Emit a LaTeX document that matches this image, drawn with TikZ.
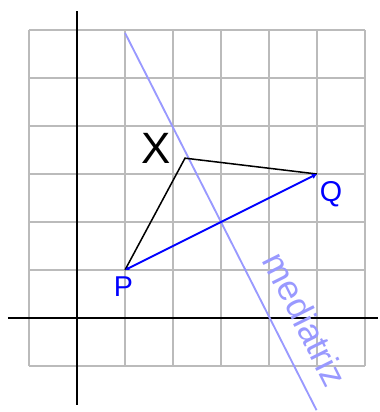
\documentclass[tikz,border=0pt]{standalone}
\usepackage{fontspec}
\setmainfont{Liberation Sans}
\usetikzlibrary{arrows.meta}
\definecolor{gridgray}{HTML}{BBBBBB}
\definecolor{lightblue}{HTML}{9999FF}
\tikzset{
  gridline/.style={draw=gridgray, line width=1.2pt},
  axisline/.style={draw=black, line width=1.2pt},
  segline/.style={draw=black, line width=0.9pt},
  vecline/.style={draw=blue, line width=1.1pt, {Latex[length=2.5pt,width=2.5pt]}-{Latex[length=3pt,width=3.5pt]}},
  medline/.style={draw=lightblue, line width=1.1pt},
  ptlabel/.style={text=blue, font=\fontsize{17}{17}\selectfont, inner sep=0pt},
}
\begin{document}
\begin{tikzpicture}
\useasboundingbox (-1.604,-1.958) rectangle (6.292,6.625);
\draw[gridline] (-1,-1) grid (6,6);
\coordinate (xl) at (-1.44,0);
\coordinate (xr) at (6.27,0);
\coordinate (yt) at (0,6.4);
\coordinate (yb) at (0,-1.81);
\draw[axisline] (xl) -- (xr);
\draw[axisline] (yb) -- (yt);
\coordinate (m1) at (1.0,5.94);
\coordinate (m2) at (4.99,-1.92);
\draw[medline] (m1) -- (m2);
\coordinate (P) at (1,1);
\coordinate (Q) at (5,3);
\coordinate (X) at (2.25,3.33);
\draw[segline] (P) -- (X) -- (Q);
\draw[vecline] (P) -- (Q);
\node[font=\fontsize{26}{26}\selectfont, inner sep=0pt] (lx) at (1.65,3.54) {X};
\node[ptlabel] (lq) at (5.29,2.58) {Q};
\node[ptlabel] (lp) at (0.97,0.66) {P};
\node[text=lightblue, font=\fontsize{21}{21}\selectfont, rotate=-63.4, inner sep=0pt] (lm) at (4.76,-0.02) {mediatriz};
\end{tikzpicture}
\end{document}
